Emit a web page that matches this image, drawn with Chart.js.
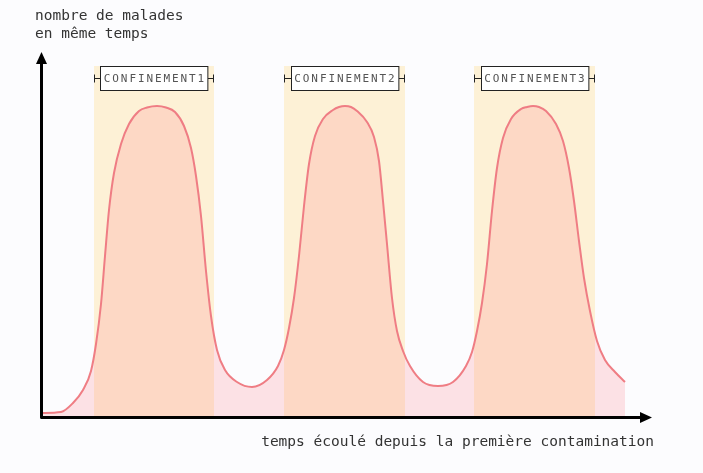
<!DOCTYPE html>
<html>
<head>
<meta charset="utf-8">
<script src="https://cdn.jsdelivr.net/npm/chart.js@4"></script>
<style>
  body { margin: 0; background: #fcfcfe; }
  canvas { display: block; }
</style>
</head>
<body>
<canvas id="myChart" width="703" height="473"></canvas>
<script>
// temps (unité arbitraire) et nombre de malades
const time = [0, 20, 32, 42, 50, 55, 60, 64, 68, 73, 80, 88, 98, 106, 116, 125,
  134, 143, 150, 155, 160, 165, 170, 176, 184, 196, 211, 226, 237,
  243, 248, 253, 258, 263, 268, 274, 282, 292, 298, 304, 310,
  316, 326, 333, 338, 342, 346, 351, 356, 362, 369, 382, 397, 412, 425,
  431, 436, 441, 446, 451, 456, 462, 470, 480, 486, 492, 498,
  505, 515, 522, 528, 533, 538, 543, 549, 556, 564, 574, 584];
const malades = [3, 4, 13, 26, 45, 72, 112, 160, 206, 243, 272, 292, 305, 308.5, 310, 308.5,
  304, 290, 268, 240, 200, 145, 100, 66, 46, 34, 29, 36, 50,
  66, 88, 118, 160, 210, 252, 280, 297, 306, 309, 310, 309,
  305, 294, 279, 255, 215, 172, 118, 85, 65, 50, 34, 30, 34, 50,
  64, 85, 113, 152, 205, 248, 278, 297, 307, 309, 310, 309,
  305, 292, 275, 248, 215, 175, 138, 105, 75, 56, 44, 34];

const confinementStart = [53, 243, 433];
const confinementEnd = [173, 364, 554];
const confinementLabels = ['CONFINEMENT1', 'CONFINEMENT2', 'CONFINEMENT3'];
const bandTop = 350;

const yTitle = ['nombre de malades', 'en même temps'];
const xTitle = 'temps écoulé depuis la première contamination';

const MONO = '"DejaVu Sans Mono", monospace';

const bandsPlugin = {
  id: 'bands',
  beforeDatasetsDraw(chart) {
    const { ctx, scales: { x, y } } = chart;
    ctx.save();
    ctx.fillStyle = '#fdf1d6';
    confinementStart.forEach((s, i) => {
      const x0 = x.getPixelForValue(s);
      const x1 = x.getPixelForValue(confinementEnd[i]);
      const y0 = y.getPixelForValue(bandTop);
      const y1 = y.getPixelForValue(0);
      ctx.fillRect(x0, y0, x1 - x0, y1 - y0);
    });
    ctx.restore();
  },
  afterDatasetsDraw(chart) {
    const { ctx, scales: { x, y } } = chart;
    ctx.save();
    ctx.font = '11px ' + MONO;
    const spacing = 1.9;
    const cw = ctx.measureText('M').width;
    confinementLabels.forEach((lab, i) => {
      const x0 = x.getPixelForValue(confinementStart[i]);
      const x1 = x.getPixelForValue(confinementEnd[i]);
      const cx = (x0 + x1) / 2;
      const cy = y.getPixelForValue(bandTop) + 12.5;
      const tw = lab.length * cw + (lab.length - 1) * spacing;
      const bw = tw + 7, bh = 24;
      const bx = Math.round(cx - bw / 2) + 0.5, by = Math.round(cy - bh / 2) + 0.5;
      // crochets
      ctx.strokeStyle = '#222';
      ctx.lineWidth = 1;
      ctx.beginPath();
      ctx.moveTo(Math.round(x0) + 0.5, by + 8);
      ctx.lineTo(Math.round(x0) + 0.5, by + 16);
      ctx.moveTo(Math.round(x0), by + 12);
      ctx.lineTo(bx, by + 12);
      ctx.moveTo(Math.round(x1) - 0.5, by + 8);
      ctx.lineTo(Math.round(x1) - 0.5, by + 16);
      ctx.moveTo(bx + bw, by + 12);
      ctx.lineTo(Math.round(x1), by + 12);
      ctx.stroke();
      // boîte
      ctx.fillStyle = '#ffffff';
      ctx.fillRect(bx, by, bw, bh);
      ctx.strokeRect(bx, by, bw, bh);
      ctx.fillStyle = '#555';
      ctx.textBaseline = 'middle';
      ctx.textAlign = 'left';
      let tx = cx - tw / 2;
      for (const ch of lab) {
        ctx.fillText(ch, tx, cy + 0.5);
        tx += cw + spacing;
      }
    });
    ctx.restore();
  },
  afterDraw(chart) {
    const { ctx, chartArea } = chart;
    const ox = chartArea.left + 0.5, oy = chartArea.bottom + 1.5;
    ctx.save();
    ctx.strokeStyle = '#000';
    ctx.fillStyle = '#000';
    ctx.lineWidth = 3;
    ctx.lineJoin = 'round';
    ctx.beginPath();
    ctx.moveTo(ox, chartArea.top + 10);
    ctx.lineTo(ox, oy);
    ctx.lineTo(chartArea.right - 10, oy);
    ctx.stroke();
    ctx.beginPath();
    ctx.moveTo(ox, chartArea.top);
    ctx.lineTo(ox - 5.5, chartArea.top + 12);
    ctx.lineTo(ox + 5.5, chartArea.top + 12);
    ctx.closePath();
    ctx.fill();
    ctx.beginPath();
    ctx.moveTo(chartArea.right, oy);
    ctx.lineTo(chartArea.right - 12, oy - 5.5);
    ctx.lineTo(chartArea.right - 12, oy + 5.5);
    ctx.closePath();
    ctx.fill();

    ctx.fillStyle = '#333';
    ctx.font = '14.5px ' + MONO;
    ctx.textBaseline = 'alphabetic';
    ctx.textAlign = 'left';
    ctx.fillText(yTitle[0], 35, 20);
    ctx.fillText(yTitle[1], 35, 37.5);
    ctx.textAlign = 'right';
    ctx.fillText(xTitle, 654, 446);
    ctx.restore();
  }
};

new Chart(document.getElementById('myChart').getContext('2d'), {
  type: 'line',
  data: {
    datasets: [{
      data: time.map((t, i) => ({ x: t, y: malades[i] })),
      borderColor: '#ef7d84',
      borderWidth: 2,
      backgroundColor: 'rgba(255, 120, 128, 0.2)',
      fill: 'origin',
      pointRadius: 0,
      cubicInterpolationMode: 'monotone',
    }],
  },
  options: {
    responsive: false,
    animation: false,
    layout: { padding: { left: 41, right: 51, top: 52, bottom: 57 } },
    scales: {
      x: { type: 'linear', min: 0, max: 611, display: false },
      y: { min: 0, max: 364, display: false },
    },
    plugins: { legend: { display: false }, tooltip: { enabled: false } },
  },
  plugins: [bandsPlugin],
});
</script>
</body>
</html>
